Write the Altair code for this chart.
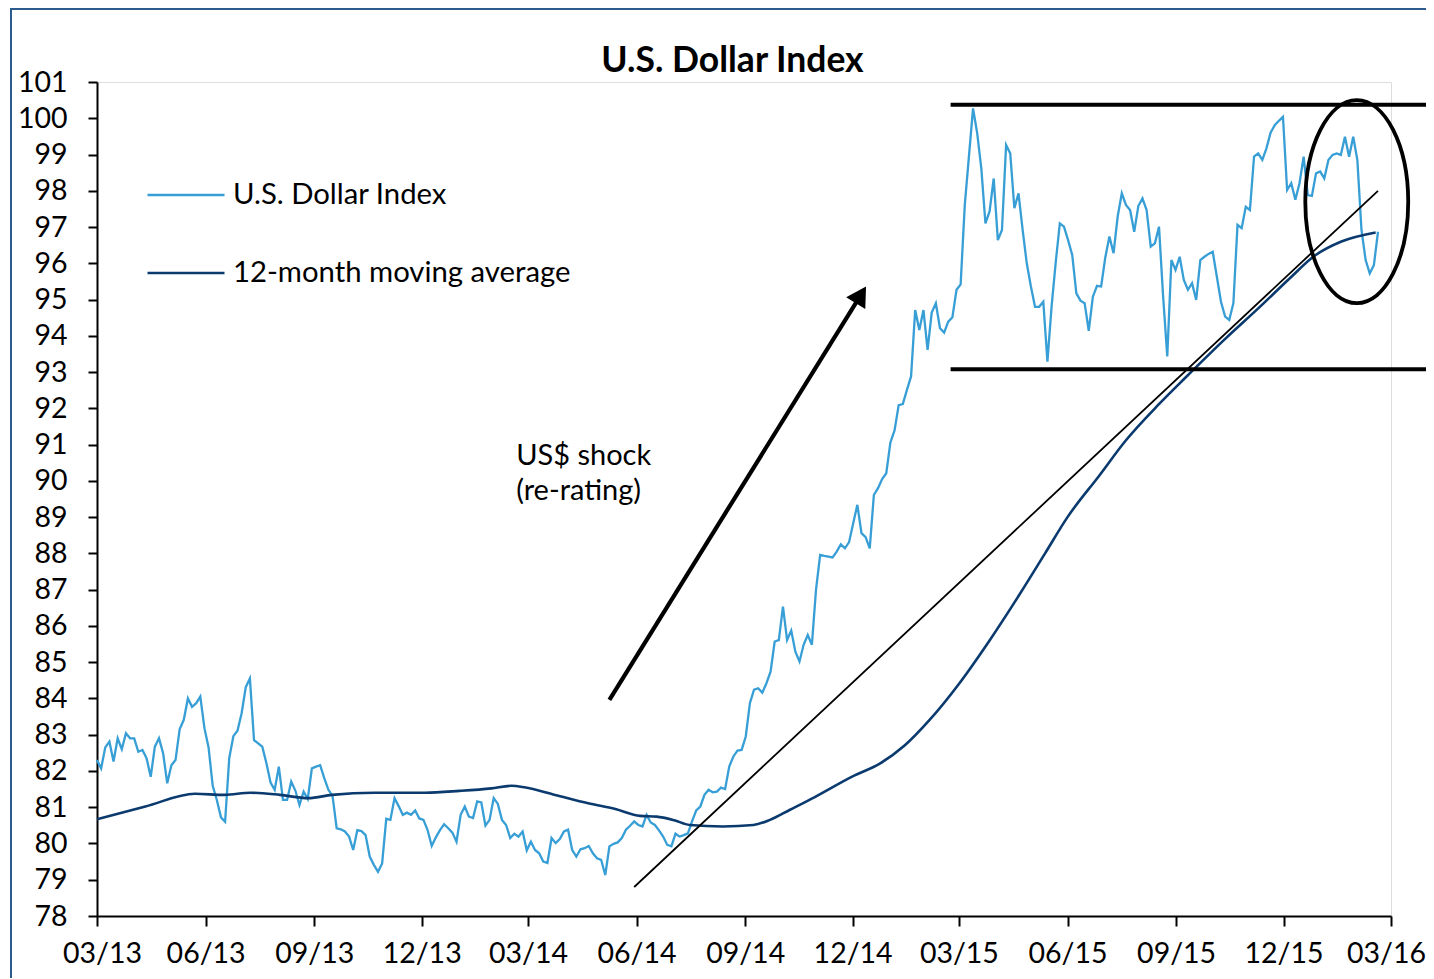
import altair as alt
import pandas as pd

# ---------------- data ----------------
# U.S. Dollar Index, readings every 3.5 days starting 2013-03-01
dxy_start = "2013-03-01"
dxy_values = [
    82.30, 82.07, 82.65, 82.81, 82.26, 82.90, 82.60, 83.04, 82.90, 82.90,
    82.53, 82.58, 82.35, 81.84, 82.67, 82.90, 82.49, 81.66, 82.16, 82.30,
    83.15, 83.41, 84.00, 83.77, 83.87, 84.05, 83.18, 82.65, 81.59, 81.20,
    80.72, 80.60, 82.35, 82.96, 83.11, 83.59, 84.31, 84.55, 82.85, 82.76,
    82.67, 82.21, 81.68, 81.48, 82.12, 81.20, 81.20, 81.71, 81.46, 81.06,
    81.43, 81.23, 82.07, 82.12, 82.16, 81.80, 81.48, 81.31, 80.42, 80.39,
    80.33, 80.19, 79.82, 80.37, 80.34, 80.23, 79.64, 79.41, 79.22, 79.45,
    80.68, 80.65, 81.25, 81.03, 80.79, 80.85, 80.79, 80.91, 80.69, 80.65,
    80.37, 79.93, 80.17, 80.37, 80.53, 80.42, 80.30, 80.05, 80.79, 81.02,
    80.74, 80.70, 81.16, 81.13, 80.49, 80.65, 81.25, 81.09, 80.65, 80.51,
    80.15, 80.27, 80.19, 80.33, 79.81, 80.05, 79.82, 79.73, 79.50, 79.46,
    80.15, 80.01, 80.12, 80.33, 80.38, 79.82, 79.64, 79.84, 79.87, 79.93,
    79.73, 79.59, 79.55, 79.13, 79.92, 79.99, 80.03, 80.15, 80.38, 80.49,
    80.61, 80.51, 80.47, 80.79, 80.58, 80.51, 80.36, 80.19, 79.96, 79.92,
    80.27, 80.19, 80.23, 80.28, 80.61, 80.91, 81.02, 81.34, 81.48, 81.41,
    81.43, 81.54, 81.50, 82.12, 82.40, 82.56, 82.58, 82.95, 83.87, 84.24,
    84.28, 84.16, 84.42, 84.74, 85.57, 85.61, 86.53, 85.61, 85.87, 85.29,
    85.02, 85.48, 85.75, 85.48, 87.00, 87.96, 87.93, 87.91, 87.89, 88.05,
    88.25, 88.14, 88.31, 88.83, 89.34, 88.56, 88.45, 88.14, 89.61, 89.80,
    90.05, 90.21, 91.06, 91.39, 92.09, 92.12, 92.51, 92.88, 94.71, 94.16,
    94.71, 93.61, 94.64, 94.90, 94.21, 94.09, 94.39, 94.51, 95.27, 95.42,
    97.61, 98.94, 100.27, 99.59, 98.62, 97.10, 97.43, 98.34, 96.64, 96.92,
    99.26, 99.03, 97.52, 97.93, 96.92, 96.00, 95.36, 94.80, 94.80, 94.94,
    93.29, 94.80, 96.02, 97.10, 97.01, 96.64, 96.23, 95.17, 94.97, 94.90,
    94.14, 95.08, 95.38, 95.36, 96.16, 96.74, 96.28, 97.29, 97.93, 97.61,
    97.47, 96.87, 97.58, 97.79, 97.47, 96.46, 96.55, 97.01, 95.08, 93.43,
    96.09, 95.82, 96.18, 95.54, 95.27, 95.45, 94.99, 96.09, 96.18, 96.26,
    96.32, 95.63, 94.94, 94.53, 94.44, 94.90, 97.06, 96.97, 97.56, 97.47,
    98.94, 99.03, 98.85, 99.17, 99.60, 99.81, 99.93, 100.04, 98.02, 98.21,
    97.75, 98.21, 98.94, 97.88, 97.86, 98.48, 98.53, 98.34, 98.85, 98.99,
    99.03, 98.99, 99.49, 98.94, 99.49, 98.85, 96.92, 96.09, 95.72, 95.95,
    96.87,
]

# 12-month moving average
ma_dates = [
    "2013-03-01", "2013-04-11", "2013-05-23", "2013-06-17", "2013-07-09",
    "2013-08-03", "2013-08-27", "2013-09-16", "2013-10-22", "2013-12-04",
    "2014-01-02", "2014-01-29", "2014-02-15", "2014-02-26", "2014-03-24",
    "2014-04-21", "2014-05-14", "2014-06-04", "2014-06-18", "2014-07-02",
    "2014-07-16", "2014-08-13", "2014-09-08", "2014-09-22", "2014-10-09",
    "2014-10-30", "2014-12-01", "2014-12-24", "2015-01-14", "2015-02-04",
    "2015-03-01", "2015-03-27", "2015-04-22", "2015-05-13", "2015-06-01",
    "2015-06-28", "2015-07-20", "2015-08-17", "2015-09-09", "2015-10-13",
    "2015-11-10", "2015-12-07", "2015-12-27", "2016-01-19", "2016-02-17",
]
ma_values = [
    80.67, 81.02, 81.37, 81.34, 81.40,
    81.34, 81.25, 81.34, 81.40, 81.40,
    81.45, 81.52, 81.59, 81.55, 81.34,
    81.11, 80.95, 80.76, 80.74, 80.65,
    80.51, 80.47, 80.51, 80.65, 80.93,
    81.28, 81.85, 82.20, 82.70, 83.40,
    84.40, 85.60, 86.90, 88.00, 89.00,
    90.15, 91.10, 92.10, 92.85, 93.93,
    94.77, 95.61, 96.20, 96.60, 96.85,
]

series_names = ["U.S. Dollar Index", "12-month moving average"]
series_colors = ["#379ed6", "#0b3a6f"]

# annotations
trend_dates = ["2014-05-30", "2016-02-19"]
trend_values = [78.8, 98.0]

arrow_dates = ["2014-05-09", "2014-12-08"]
arrow_values = [83.96, 95.13]

band_start = "2015-02-22"
band_end = "2016-04-06"
band_levels = [100.37, 93.08]

circle_date = "2016-02-01"
circle_value = 97.70

note_date = "2014-02-19"
note_value = 90.44
note_text = "US$ shock\n(re-rating)"

title_text = "U.S. Dollar Index"

x_ticks = [(2013, 3), (2013, 6), (2013, 9), (2013, 12), (2014, 3), (2014, 6),
           (2014, 9), (2014, 12), (2015, 3), (2015, 6), (2015, 9), (2015, 12),
           (2016, 3)]
y_ticks = list(range(78, 102))

# ---------------- tables ----------------
def local(d):
    return d + "T00:00:00"

dxy_dates = pd.date_range(dxy_start, periods=len(dxy_values), freq="84h").strftime("%Y-%m-%dT%H:%M:%S")
dxy_df = pd.DataFrame({"date": dxy_dates, "value": dxy_values, "series": series_names[0]})
ma_df = pd.DataFrame({"date": [local(d) for d in ma_dates], "value": ma_values, "series": series_names[1]})
trend_df = pd.DataFrame({"date": [local(d) for d in trend_dates], "value": trend_values})
arrow_df = pd.DataFrame({"date": [local(d) for d in arrow_dates], "value": arrow_values})
head_df = arrow_df.iloc[[1]]
band_df = pd.DataFrame({"date": local(band_start), "end": local(band_end), "value": band_levels})
circle_df = pd.DataFrame({"date": [local(circle_date)], "value": [circle_value]})
note_df = pd.DataFrame({"date": [local(note_date)], "value": [note_value], "text": [note_text]})
title_df = pd.DataFrame({"text": [title_text]})
one_row = pd.DataFrame({"k": [0]})

FONT = "Lato"
TICK_FS = 28.5

x_scale = alt.Scale(domain=[alt.DateTime(year=2013, month=3, date=1),
                            alt.DateTime(year=2016, month=3, date=1)], nice=False)
y_scale = alt.Scale(domain=[78, 101], nice=False, zero=False)

x_axis = alt.Axis(values=[alt.DateTime(year=y, month=m, date=1) for y, m in x_ticks],
                  format="%m/%y", title=None, grid=False, labelFontSize=TICK_FS, labelFont=FONT,
                  labelColor="black", tickColor="black", domainColor="black",
                  tickSize=10, tickWidth=2, domainWidth=2, labelPadding=13,
                  labelFlush=True, labelFlushOffset=34.5, labelOverlap=False)
y_axis = alt.Axis(values=y_ticks, title=None, grid=False, labelFontSize=TICK_FS, labelFont=FONT,
                  labelColor="black", tickColor="black", domainColor="black",
                  tickSize=9, tickWidth=2, domainWidth=2, labelPadding=21,
                  labelFlush=False, labelOverlap=False)

legend = alt.Legend(title=None, orient="none", legendX=49, legendY=73,
                    symbolType="stroke", symbolSize=5929,
                    symbolStrokeWidth=2.5, labelFontSize=29.3, labelFont=FONT,
                    labelColor="black", labelOffset=7, rowPadding=22,
                    padding=0, labelLimit=0)
color = alt.Color("series:N", scale=alt.Scale(domain=series_names, range=series_colors),
                  legend=legend)

X = alt.X("date:T", scale=x_scale, axis=x_axis)
Y = alt.Y("value:Q", scale=y_scale, axis=y_axis)

frame_color = "#2c5b8c"
frame_top = alt.Chart(one_row).mark_rule(color=frame_color, strokeWidth=2, clip=False).encode(
    x=alt.value(-87), x2=alt.value(1340), y=alt.value(-73))
frame_left = alt.Chart(one_row).mark_rule(color=frame_color, strokeWidth=2, clip=False).encode(
    x=alt.value(-86), y=alt.value(-74), y2=alt.value(900))
title = alt.Chart(title_df).mark_text(align="center", baseline="alphabetic", fontSize=35.5,
                                      fontWeight="bold", font=FONT, color="black").encode(
    x=alt.value(635.5), y=alt.value(-10), text="text:N")

dxy_line = alt.Chart(dxy_df).mark_line(strokeWidth=2.3).encode(x=X, y=Y, color=color)
ma_line = alt.Chart(ma_df).mark_line(strokeWidth=2.6, interpolate="monotone").encode(
    x=X, y=Y, color=color)

trend = alt.Chart(trend_df).mark_line(color="black", strokeWidth=1.8).encode(x=X, y=Y)
bands = alt.Chart(band_df).mark_rule(color="black", strokeWidth=4, clip=False).encode(
    x=X, x2="end:T", y=Y)
shaft = alt.Chart(arrow_df).mark_line(color="black", strokeWidth=4.2).encode(x=X, y=Y)
head = alt.Chart(head_df).mark_point(shape="triangle-up", size=506, angle=32, filled=True,
                                     color="black", opacity=1).encode(x=X, y=Y)
ellipse_path = "M-0.507,0 A0.507,1 0 1,1 0.507,0 A0.507,1 0 1,1 -0.507,0 Z"
circle = alt.Chart(circle_df).mark_point(shape=ellipse_path, size=41209, filled=False,
                                         color="black", strokeWidth=3.8, opacity=1).encode(x=X, y=Y)
note = alt.Chart(note_df).mark_text(align="left", baseline="alphabetic", fontSize=29, font=FONT,
                                    lineBreak="\n", lineHeight=35, color="black").encode(
    x=X, y=Y, text="text:N")

chart = alt.layer(
    frame_top, frame_left, title, dxy_line, ma_line, trend, bands, shaft, head, circle, note
).properties(
    width=1294, height=834,
    autosize=alt.AutoSizeParams(type="none"),
    padding={"left": 89, "top": 74, "right": 35, "bottom": 62},
).configure_view(stroke=None).configure(background="white", font=FONT)

chart.save("out.html", embed_options={"renderer": "svg", "actions": False})
